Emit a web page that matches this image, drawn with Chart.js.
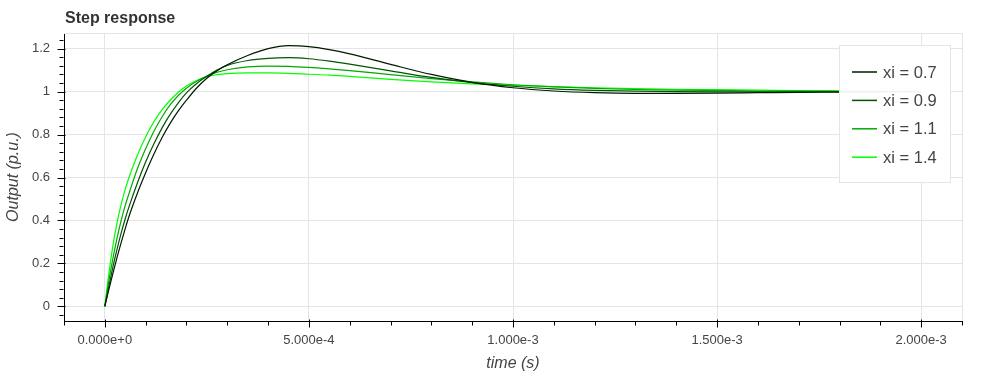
<!DOCTYPE html>
<html>
<head>
<meta charset="utf-8">
<script src="https://cdn.jsdelivr.net/npm/chart.js@4"></script>
<style>
  html, body { margin: 0; padding: 0; background: #fff; }
  #wrap { width: 1000px; height: 375px; position: relative; }
</style>
</head>
<body>
<div id="wrap"><canvas id="chart-step"></canvas></div>
<script>
// ===== Data =====
const times = [0, 1e-5, 2e-5, 3e-5, 4e-5, 5e-5, 6e-5, 8e-5, 1e-4, 1.2e-4, 1.4e-4, 1.6e-4, 1.8e-4,
  2e-4, 2.25e-4, 2.5e-4, 2.75e-4, 3e-4, 3.5e-4, 4e-4, 4.5e-4, 5e-4, 5.5e-4, 6e-4, 7e-4, 8e-4, 9e-4,
  1e-3, 1.1e-3, 1.2e-3, 1.3e-3, 1.4e-3, 1.5e-3, 1.6e-3, 1.7e-3, 1.8e-3, 1.9e-3, 2e-3];

const xi07 = [0, 0.079, 0.155, 0.228, 0.297, 0.362, 0.423, 0.528, 0.622, 0.708, 0.785, 0.852, 0.910,
  0.96, 1.017, 1.062, 1.097, 1.125, 1.168, 1.2, 1.214, 1.210, 1.196, 1.176, 1.127, 1.08, 1.043,
  1.018, 1.003, 0.995, 0.992, 0.992, 0.993, 0.995, 0.997, 0.998, 0.999, 1.0];

const xi09 = [0, 0.095, 0.185, 0.267, 0.341, 0.408, 0.468, 0.576, 0.672, 0.756, 0.83, 0.894, 0.948,
  0.994, 1.038, 1.072, 1.1, 1.122, 1.145, 1.155, 1.158, 1.153, 1.142, 1.128, 1.097, 1.066, 1.042,
  1.025, 1.013, 1.006, 1.002, 1.0, 0.999, 0.999, 0.999, 1.0, 1.0, 1.0];

const xi11 = [0, 0.12, 0.225, 0.318, 0.40, 0.47, 0.53, 0.642, 0.734, 0.814, 0.882, 0.938, 0.982,
  1.016, 1.048, 1.072, 1.09, 1.102, 1.115, 1.119, 1.118, 1.113, 1.106, 1.098, 1.079, 1.061, 1.045,
  1.032, 1.022, 1.015, 1.01, 1.007, 1.005, 1.003, 1.002, 1.001, 1.001, 1.0];

const xi14 = [0, 0.155, 0.285, 0.39, 0.475, 0.545, 0.605, 0.705, 0.789, 0.859, 0.915, 0.96, 0.997,
  1.026, 1.052, 1.07, 1.079, 1.084, 1.087, 1.087, 1.085, 1.081, 1.077, 1.071, 1.057, 1.045, 1.036,
  1.029, 1.023, 1.018, 1.014, 1.011, 1.009, 1.007, 1.005, 1.004, 1.003, 1.002];

const seriesLabels = ['xi = 0.7', 'xi = 0.9', 'xi = 1.1', 'xi = 1.4'];
const seriesValues = [xi07, xi09, xi11, xi14];

const xTicks = [0, 0.0005, 0.001, 0.0015, 0.002];
const xTickLabels = ['0.000e+0', '5.000e-4', '1.000e-3', '1.500e-3', '2.000e-3'];
const yTicks = [0, 0.2, 0.4, 0.6, 0.8, 1, 1.2];
const yTickLabels = ['0', '0.2', '0.4', '0.6', '0.8', '1', '1.2'];

// ===== Styles =====
const FONT = "'Liberation Sans', Arial, Helvetica, sans-serif";
const colors = {
  lines: ['#001a00', '#005500', '#00aa00', '#00ff00'],
  grid: '#e5e5e5',
  text: '#444444',
  axis: '#000000'
};
const xRange = { min: -0.0001, max: 0.0021, minorStep: 0.0001 };
const yRange = { min: -0.068, max: 1.273, minorStep: 0.04 };

// ticks, frame outline, legend and title drawn on top
const decorPlugin = {
  id: 'decor',
  afterDraw(chart) {
    const ctx = chart.ctx;
    const area = chart.chartArea;
    const xs = chart.scales.x, ys = chart.scales.y;

    ctx.save();
    // outline (top / right)
    ctx.strokeStyle = colors.grid;
    ctx.lineWidth = 1;
    ctx.beginPath();
    ctx.moveTo(area.left, Math.round(area.top) + 0.5);
    ctx.lineTo(Math.round(area.right) + 0.5, Math.round(area.top) + 0.5);
    ctx.lineTo(Math.round(area.right) + 0.5, area.bottom);
    ctx.stroke();

    // axis ticks (major + minor)
    ctx.strokeStyle = colors.axis;
    ctx.beginPath();
    const bx = Math.round(area.bottom) + 0.5;
    for (let v = Math.ceil(xRange.min / xRange.minorStep) * xRange.minorStep; v <= xRange.max + 1e-12; v += xRange.minorStep) {
      const px = Math.round(xs.getPixelForValue(v)) + 0.5;
      const major = xTicks.some(t => Math.abs(t - v) < 1e-9);
      ctx.moveTo(px, bx - (major ? 2 : 0));
      ctx.lineTo(px, bx + (major ? 6 : 4));
    }
    const lx = Math.round(area.left) - 0.5;
    for (let v = Math.ceil(yRange.min / yRange.minorStep) * yRange.minorStep; v <= yRange.max + 1e-12; v += yRange.minorStep) {
      const py = Math.round(ys.getPixelForValue(v)) + 0.5;
      const major = yTicks.some(t => Math.abs(t - v) < 1e-9);
      ctx.moveTo(lx + (major ? 2 : 0), py);
      ctx.lineTo(lx - (major ? 6 : 4), py);
    }
    ctx.stroke();

    // legend box
    const box = { x: 839, y: 45, w: 111, h: 137 };
    ctx.fillStyle = 'rgba(255,255,255,0.95)';
    ctx.fillRect(box.x, box.y, box.w, box.h);
    ctx.strokeStyle = colors.grid;
    ctx.strokeRect(box.x + 0.5, box.y + 0.5, box.w, box.h);
    ctx.font = '16.5px ' + FONT;
    ctx.textBaseline = 'middle';
    ctx.textAlign = 'left';
    chart.data.datasets.forEach((ds, i) => {
      const ry = box.y + 27 + i * 28.4;
      ctx.strokeStyle = ds.borderColor;
      ctx.lineWidth = 1.5;
      ctx.beginPath();
      ctx.moveTo(852, ry);
      ctx.lineTo(877, ry);
      ctx.stroke();
      ctx.fillStyle = colors.text;
      ctx.fillText(ds.label, 883, ry + 1);
    });

    // title
    ctx.fillStyle = '#333333';
    ctx.font = 'bold 16px ' + FONT;
    ctx.textBaseline = 'alphabetic';
    ctx.fillText('Step response', 65, 23);
    ctx.restore();
  }
};

const datasets = seriesValues.map((vals, i) => ({
  label: seriesLabels[i],
  data: times.map((t, j) => ({ x: t, y: vals[j] })),
  borderColor: colors.lines[i],
  borderWidth: 1.2,
  pointRadius: 0,
  fill: false,
  cubicInterpolationMode: 'monotone'
}));

new Chart(document.getElementById('chart-step'), {
  type: 'line',
  data: { datasets },
  plugins: [decorPlugin],
  options: {
    responsive: true,
    maintainAspectRatio: false,
    animation: false,
    layout: { padding: { top: 33, right: 38, left: 0, bottom: 0 } },
    plugins: { legend: { display: false }, tooltip: { enabled: false } },
    scales: {
      x: {
        type: 'linear',
        min: xRange.min,
        max: xRange.max,
        afterBuildTicks: s => { s.ticks = xTicks.map(v => ({ value: v })); },
        afterFit: s => { s.height = 54; },
        grid: { color: colors.grid, drawTicks: false },
        border: { color: colors.axis, width: 1 },
        ticks: {
          callback: (v, i) => xTickLabels[i],
          color: colors.text,
          font: { family: FONT, size: 13 },
          padding: 12,
          maxRotation: 0,
          autoSkip: false
        },
        title: {
          display: true,
          text: 'time (s)',
          color: colors.text,
          font: { family: FONT, size: 16, style: 'italic' },
          padding: { top: 0, bottom: 2 }
        }
      },
      y: {
        type: 'linear',
        min: yRange.min,
        max: yRange.max,
        afterBuildTicks: s => { s.ticks = yTicks.map(v => ({ value: v })); },
        afterFit: s => { s.width = 64; },
        grid: { color: colors.grid, drawTicks: false },
        border: { color: colors.axis, width: 1 },
        ticks: {
          callback: (v, i) => yTickLabels[i],
          color: colors.text,
          font: { family: FONT, size: 13 },
          padding: 14,
          autoSkip: false
        },
        title: {
          display: true,
          text: 'Output (p.u.)',
          color: colors.text,
          font: { family: FONT, size: 16, style: 'italic' },
          padding: { top: 4, bottom: 0 }
        }
      }
    }
  }
});
</script>
</body>
</html>
